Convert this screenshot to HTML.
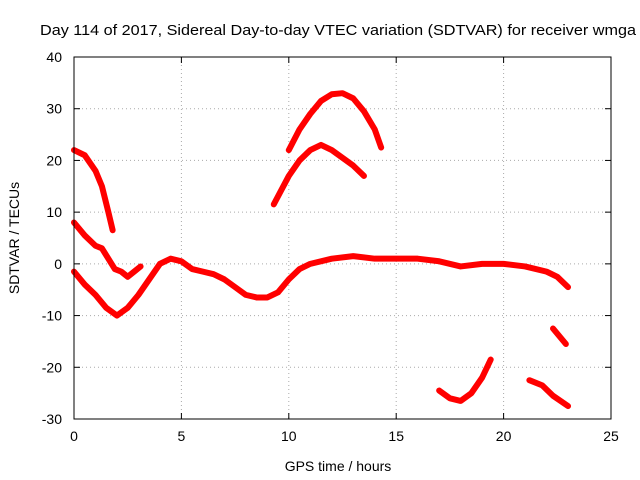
<!DOCTYPE html>
<html><head><meta charset="utf-8"><style>
body{margin:0;background:#fff;}
svg{display:block;font-family:"Liberation Sans",sans-serif;}
</style></head><body>
<svg id="chart" width="640" height="480">
<text x="40" y="35" font-size="15" textLength="596" lengthAdjust="spacingAndGlyphs">Day 114 of 2017, Sidereal Day-to-day VTEC variation (SDTVAR) for receiver wmga</text>
<text x="338" y="471" font-size="14" text-anchor="middle">GPS time / hours</text>
<text transform="translate(19,238) rotate(-90)" font-size="14" text-anchor="middle">SDTVAR / TECUs</text>
<g id="grid"></g><g id="series"></g>
<rect x="74" y="57" width="537" height="362" fill="none" stroke="#000"/>
</svg>
<script>
const xTicks=[0,5,10,15,20,25];
const yTicks=[40,30,20,10,0,-10,-20,-30];
const seg1X=[0,0.5,1,1.3,1.6,1.8];
const seg1Y=[22,21,18,15,10,6.5];
const seg2X=[0,0.5,1,1.3,1.6,1.9,2.2,2.5,2.8,3.1];
const seg2Y=[8,5.5,3.5,3,1,-1,-1.5,-2.5,-1.5,-0.5];
const seg3X=[0,0.5,1,1.5,2,2.5,3,3.5,4,4.5,5,5.5,6,6.5,7,7.5,8,8.5,9,9.5,10,10.5,11,12,13,14,15,16,17,18,19,20,21,22,22.5,23];
const seg3Y=[-1.5,-4,-6,-8.5,-10,-8.5,-6,-3,0,1,0.5,-1,-1.5,-2,-3,-4.5,-6,-6.5,-6.5,-5.5,-3,-1,0,1,1.5,1,1,1,0.5,-0.5,0,0,-0.5,-1.5,-2.5,-4.5];
const seg4X=[9.3,10,10.5,11,11.5,12,12.5,13,13.5];
const seg4Y=[11.5,17,20,22,23,22,20.5,19,17];
const seg5X=[10,10.5,11,11.5,12,12.5,13,13.5,14,14.3];
const seg5Y=[22,26,29,31.5,32.8,33,32,29.5,26,22.5];
const seg6X=[17,17.5,18,18.5,19,19.4];
const seg6Y=[-24.5,-26,-26.5,-25,-22,-18.5];
const seg7X=[21.2,21.8,22.3,23];
const seg7Y=[-22.5,-23.5,-25.5,-27.5];
const seg8X=[22.3,22.9];
const seg8Y=[-12.5,-15.5];
const segments=[[seg1X,seg1Y],[seg2X,seg2Y],[seg3X,seg3Y],[seg4X,seg4Y],[seg5X,seg5Y],[seg6X,seg6Y],[seg7X,seg7Y],[seg8X,seg8Y]];
const NS='http://www.w3.org/2000/svg';
const sx=v=>74+v*(537/25);
const sy=v=>57+(40-v)*(362/70);
const grid=document.getElementById('grid'),ser=document.getElementById('series');
function mk(t,a,p){const e=document.createElementNS(NS,t);for(const k in a)e.setAttribute(k,a[k]);p.appendChild(e);return e;}
xTicks.forEach(t=>{
 if(t>0&&t<25){const g=mk('line',{x1:sx(t),x2:sx(t),y1:57,y2:419,stroke:'#aaa','stroke-dasharray':'1,3'},grid);
 
 }
 const l=mk('text',{x:sx(t),y:441,'font-size':14,'text-anchor':'middle'},grid);l.textContent=t;
 
 
 mk('line',{x1:sx(t),x2:sx(t),y1:419,y2:413,stroke:'#000'},grid);
 mk('line',{x1:sx(t),x2:sx(t),y1:57,y2:63,stroke:'#000'},grid);
});
yTicks.forEach(t=>{
 if(t<40&&t>-30){const g=mk('line',{x1:74,x2:611,y1:sy(t),y2:sy(t),stroke:'#aaa','stroke-dasharray':'1,3'},grid);
 
 }
 const l=mk('text',{x:62,y:sy(t)+5,'font-size':14,'text-anchor':'end'},grid);l.textContent=t;
 
 
 mk('line',{x1:74,x2:80,y1:sy(t),y2:sy(t),stroke:'#000'},grid);
 mk('line',{x1:611,x2:605,y1:sy(t),y2:sy(t),stroke:'#000'},grid);
});
segments.forEach((s,i)=>{
 const pts=s[0].map((x,j)=>sx(x)+','+sy(s[1][j])).join(' ');
 const p=mk('polyline',{points:pts,fill:'none',stroke:'#f00','stroke-width':6,'stroke-linejoin':'round','stroke-linecap':'round'},ser);
 
 
});
</script>
</body></html>
